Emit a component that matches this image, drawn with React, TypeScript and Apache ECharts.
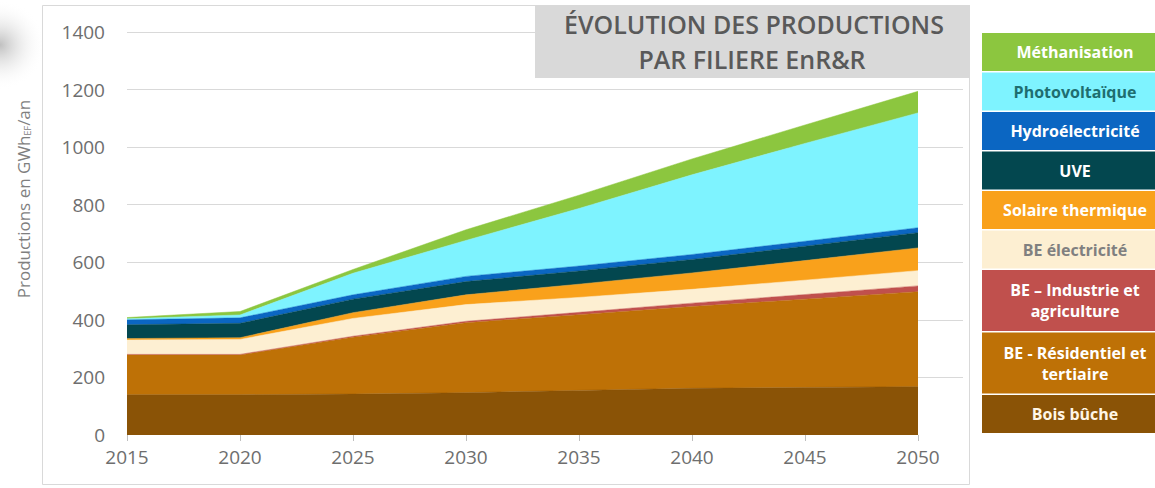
import React, { useEffect, useRef } from "react";
import * as echarts from "echarts";

const years = ["2015", "2020", "2025", "2030", "2035", "2040", "2045", "2050"];

const seriesNames = [
  "Bois bûche",
  "BE - Résidentiel et tertiaire",
  "BE – Industrie et agriculture",
  "BE électricité",
  "Solaire thermique",
  "UVE",
  "Hydroélectricité",
  "Photovoltaïque",
  "Méthanisation",
];

const boisBuche = [140, 140, 142, 147, 155, 162, 165, 168];
const beResidentiel = [138, 138, 198, 243, 263, 284, 307, 330];
const beIndustrie = [2, 2, 3, 5, 8, 12, 16, 20];
const beElectricite = [50, 52, 62, 58, 52, 48, 50, 53];
const solaireThermique = [5, 6, 20, 34, 46, 57, 68, 79];
const uve = [48, 50, 47, 46, 46, 47, 50, 53];
const hydroelectricite = [17, 19, 15, 18, 17, 17, 17, 17];
const photovoltaique = [4, 10, 75, 125, 200, 277, 340, 399];
const methanisation = [4, 12, 13, 37, 46, 55, 64, 75];

const seriesValues = [
  boisBuche,
  beResidentiel,
  beIndustrie,
  beElectricite,
  solaireThermique,
  uve,
  hydroelectricite,
  photovoltaique,
  methanisation,
];

const seriesColors = [
  "#8A5306",
  "#BE7106",
  "#C0504D",
  "#FDEFD2",
  "#F9A11B",
  "#03474F",
  "#0B66C2",
  "#7EF3FF",
  "#8CC63F",
];

// legend, top to bottom
const legendLabels = [
  "Méthanisation",
  "Photovoltaïque",
  "Hydroélectricité",
  "UVE",
  "Solaire thermique",
  "BE électricité",
  "BE – Industrie et\nagriculture",
  "BE - Résidentiel et\ntertiaire",
  "Bois bûche",
];
const legendColors = [
  "#8CC63F",
  "#7EF3FF",
  "#0B66C2",
  "#03474F",
  "#F9A11B",
  "#FDEFD2",
  "#C0504D",
  "#BE7106",
  "#8A5306",
];
const legendTextColors = [
  "#FFFFFF",
  "#1E6E70",
  "#FFFFFF",
  "#FFFFFF",
  "#FFFFFF",
  "#808080",
  "#FFFFFF",
  "#FFFFFF",
  "#FFF6E6",
];

const titleLines = ["ÉVOLUTION DES PRODUCTIONS", "PAR FILIERE EnR&R"];

export default function App() {
  const ref = useRef<HTMLDivElement>(null);

  useEffect(() => {
    if (!ref.current) return;
    const chart = echarts.init(ref.current, null, { renderer: "svg" });

    const series = seriesNames.map((name, i) => ({
      name,
      type: "line",
      stack: "total",
      symbol: "none",
      xAxisIndex: 0,
      yAxisIndex: 0,
      data: seriesValues[i],
      lineStyle: { width: 0.5, color: seriesColors[i] },
      areaStyle: { color: seriesColors[i], opacity: 1 },
      itemStyle: { color: seriesColors[i] },
      z: 2,
    }));

    const legendGraphics: any[] = [];
    let top = 33;
    legendLabels.forEach((label, i) => {
      const twoLines = label.includes("\n");
      const h = twoLines ? 61 : 38;
      legendGraphics.push({
        type: "rect",
        shape: { x: 982, y: top, width: 190, height: h },
        style: { fill: legendColors[i] },
        z: 10,
      });
      legendGraphics.push({
        type: "text",
        x: 1075,
        y: top + h / 2,
        style: {
          text: label,
          fill: legendTextColors[i],
          font: "bold 16px 'Open Sans'",
          align: "center",
          verticalAlign: "middle",
          lineHeight: 21,
        },
        z: 11,
      });
      top += h + 1.5;
    });

    const labelStyle = {
      color: "#6E6E6E",
      fontFamily: "Open Sans",
      fontSize: 19,
    };

    chart.setOption({
      animation: false,
      backgroundColor: "#FFFFFF",
      grid: [
        { left: 127, right: 237, top: 32, bottom: 53 },
        { left: 127, right: 192, top: 32, bottom: 53 },
      ],
      xAxis: [
        {
          type: "category",
          gridIndex: 0,
          data: years,
          boundaryGap: false,
          axisLine: { show: false },
          splitLine: { show: false },
          axisTick: {
            show: true,
            length: 6,
            alignWithLabel: true,
            lineStyle: { color: "#BFBFBF" },
          },
          axisLabel: { ...labelStyle, margin: 12 },
        },
        {
          type: "value",
          gridIndex: 1,
          show: false,
          min: 0,
          max: 1,
        },
      ],
      yAxis: [
        {
          type: "value",
          gridIndex: 0,
          min: 0,
          max: 1400,
          interval: 200,
          axisLine: { show: false },
          axisTick: { show: false },
          axisLabel: { show: false },
          splitLine: { show: false },
        },
        {
          type: "value",
          gridIndex: 1,
          min: 0,
          max: 1400,
          interval: 200,
          axisLine: { show: false },
          axisTick: { show: false },
          axisLabel: {
            ...labelStyle,
            margin: 22,
            formatter: (v: number) => String(v),
          },
          splitLine: {
            show: true,
            showMinLine: false,
            lineStyle: { color: "#D9D9D9", width: 1 },
          },
        },
      ],
      graphic: [
        {
          type: "circle",
          shape: { cx: 0, cy: 45, r: 45 },
          style: {
            fill: {
              type: "radial",
              x: 0.5,
              y: 0.5,
              r: 0.5,
              colorStops: [
                { offset: 0, color: "rgba(140,140,140,0.55)" },
                { offset: 1, color: "rgba(255,255,255,0)" },
              ],
            },
          },
          z: 0,
        },
        {
          type: "rect",
          shape: { x: 42.5, y: 5.5, width: 927, height: 479 },
          style: { fill: "none", stroke: "#D9D9D9", lineWidth: 1 },
          z: 1,
        },
        {
          type: "rect",
          shape: { x: 535, y: 5, width: 435, height: 73 },
          style: { fill: "#D9D9D9" },
          z: 5,
        },
        {
          type: "text",
          x: 754,
          y: 24,
          style: {
            text: titleLines[0],
            fill: "#595959",
            font: "600 25px 'Open Sans'",
            align: "center",
            verticalAlign: "middle",
          },
          z: 6,
        },
        {
          type: "text",
          x: 752,
          y: 59,
          style: {
            text: titleLines[1],
            fill: "#595959",
            font: "600 25px 'Open Sans'",
            align: "center",
            verticalAlign: "middle",
          },
          z: 6,
        },
        {
          type: "text",
          x: 23,
          y: 199,
          rotation: Math.PI / 2,
          style: {
            text: "Productions en GWh{sub|EF}/an",
            fill: "#7F7F7F",
            font: "17px 'Open Sans'",
            align: "center",
            verticalAlign: "middle",
            rich: {
              sub: {
                fontSize: 9,
                fontFamily: "Open Sans",
                fill: "#7F7F7F",
                verticalAlign: "bottom",
                padding: [7, 0, 0, 0],
              },
            },
          },
          z: 6,
        },
        ...legendGraphics,
      ],
      series,
    });

    return () => chart.dispose();
  }, []);

  return (
    <div
      ref={ref}
      style={{ position: "fixed", left: 0, top: 0, width: 1155, height: 488 }}
    />
  );
}
